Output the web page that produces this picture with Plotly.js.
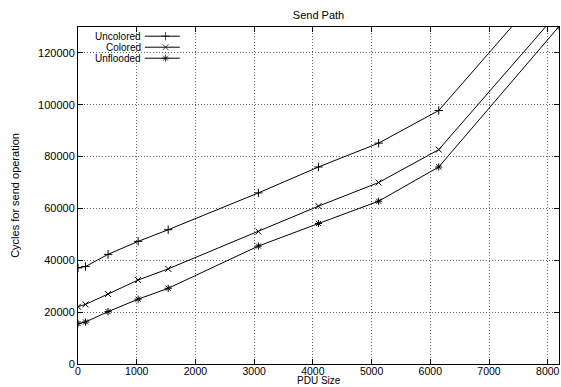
<!DOCTYPE html>
<html>
<head>
<meta charset="utf-8">
<script src="https://cdn.plot.ly/plotly-3.0.1.min.js"></script>
<style>html,body{margin:0;padding:0;background:#fff;}#chart{width:561px;height:387px;}</style>
</head>
<body>
<div id="chart"></div>
<script>
// ---- data ----
const pduSize = [0, 128, 512, 1024, 1536, 3072, 4096, 5120, 6144, 8192];
const uncolored = [37100, 37600, 42300, 47300, 51800, 66000, 76000, 85200, 97800, 151000];
const colored   = [22100, 23000, 27000, 32400, 36700, 51100, 60900, 70000, 82700, 136000];
const unflooded = [15600, 16200, 20200, 25000, 29200, 45500, 54200, 62800, 76000, 130200];
const seriesNames = ['Uncolored', 'Colored', 'Unflooded'];
const xTickVals = [0, 1000, 2000, 3000, 4000, 5000, 6000, 7000, 8000];
const yTickVals = [0, 20000, 40000, 60000, 80000, 100000, 120000];
const xTitle = 'PDU Size';
const yTitle = 'Cycles for send operation';
const chartTitle = 'Send Path';

// ---- styles ----
const seriesSymbols = ['cross-thin-open', 'x-thin-open', 'asterisk-open'];
const seriesValues = [uncolored, colored, unflooded];
const font = 'Liberation Sans, Arial, Helvetica, sans-serif';

const traces = seriesValues.map((vals, i) => ({
  type: 'scatter', mode: 'lines+markers', name: seriesNames[i], showlegend: false,
  x: pduSize, y: vals,
  line: {color: '#000', width: 1},
  marker: {symbol: seriesSymbols[i], size: 6, color: '#000', line: {color: '#000', width: 1}}
}));

// custom legend (gnuplot style: label right-aligned, sample on the right), in an overlay frame 0..1
const legendRowY = [0.9727, 0.9401, 0.9074];
const legendSampleX = [0.139, 0.182, 0.2116];
const legendTextX = 0.134;
seriesNames.forEach((nm, i) => {
  traces.push({
    type: 'scatter', mode: 'lines+markers', xaxis: 'x2', yaxis: 'y2', showlegend: false, hoverinfo: 'skip',
    x: legendSampleX, y: [legendRowY[i], legendRowY[i], legendRowY[i]],
    line: {color: '#000', width: 1},
    marker: {symbol: seriesSymbols[i], size: [0, 6, 0], color: '#000', line: {color: '#000', width: 1}},
    cliponaxis: false
  });
});
const annotations = seriesNames.map((nm, i) => ({
  text: nm, xref: 'x2', yref: 'y2', x: legendTextX, y: legendRowY[i],
  xanchor: 'right', yanchor: 'middle', showarrow: false, borderpad: 0,
  font: {family: font, size: 10, color: '#000'}
}));
annotations.push({
  text: xTitle, xref: 'paper', yref: 'paper', x: 0.5, y: -0.0682,
  xanchor: 'center', yanchor: 'bottom', showarrow: false, borderpad: 0,
  font: {family: font, size: 10, color: '#000'}
});

const axisCommon = {
  showline: true, linecolor: '#000', linewidth: 1, mirror: 'ticks',
  ticks: 'inside', ticklen: 5, tickcolor: '#000', tickwidth: 1,
  showgrid: true, gridcolor: '#666', griddash: '1px,2px', gridwidth: 1,
  zeroline: false, automargin: false, tickmode: 'array',
  tickfont: {family: font, size: 11, color: '#000'}
};

const layout = {
  width: 561, height: 387,
  margin: {l: 78, r: 2, t: 27, b: 23},
  paper_bgcolor: '#fff', plot_bgcolor: '#fff',
  font: {family: font, size: 11, color: '#000'},
  title: {text: chartTitle, font: {family: font, size: 11, color: '#000'}, x: 0.5, xref: 'paper', xanchor: 'center', y: 0.961, yanchor: 'middle'},
  xaxis: Object.assign({}, axisCommon, {range: [0, 8192], tickvals: xTickVals, ticktext: xTickVals.map(String), ticklabelstandoff: -3,
    tickfont: {family: font, size: 10.5, color: '#000'}}),
  yaxis: Object.assign({}, axisCommon, {range: [0, 130000], tickvals: yTickVals, ticktext: yTickVals.map(String),
    title: {text: yTitle, standoff: 16, font: {family: font, size: 11, color: '#000'}}}),
  xaxis2: {overlaying: 'x', range: [0, 1], visible: false, fixedrange: true},
  yaxis2: {overlaying: 'y', range: [0, 1], visible: false, fixedrange: true},
  annotations: annotations,
  showlegend: false
};

Plotly.newPlot('chart', traces, layout, {displayModeBar: false, staticPlot: true});
</script>
</body>
</html>
